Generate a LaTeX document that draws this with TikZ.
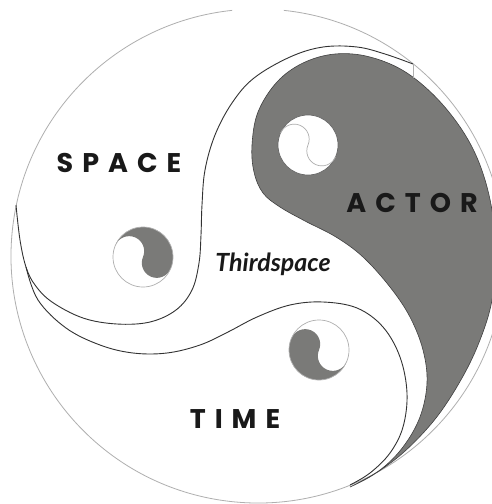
\documentclass[tikz,border=0pt]{standalone}
\usepackage{fontspec}
\newfontfamily\capsfont{Poppins}
\newfontfamily\italfont{Lato}
\definecolor{yyfill}{RGB}{122,122,120}
\definecolor{rimgray}{RGB}{175,175,175}
\definecolor{lobeline}{RGB}{50,50,50}
\newcommand\lgp{\kern 9pt}
\tikzset{
  rim/.style={draw=rimgray, line width=0.8pt},
  lobe/.style={draw=lobeline, line width=0.9pt},
  grayshape/.style={fill=yyfill, draw=black!75, line width=0.6pt},
  eyerim/.style={draw=rimgray, line width=0.7pt},
  bigword/.style={anchor=base, font=\capsfont\bfseries\fontsize{27}{30}\selectfont, text=black!90},
  midword/.style={anchor=base, font=\italfont\bfseries\itshape\fontsize{25}{28}\selectfont, text=black!90}
}
\begin{document}
\begin{tikzpicture}[x=1pt,y=-1pt]
\useasboundingbox (0,0) rectangle (492,504);
\fill[white] (0,0) rectangle (492,504);
\begin{scope}
\clip (0,0) rectangle (492,504);
% outer circle (with small gap at top)
\draw[rim] (258,256) ++(276:247) arc[start angle=276, end angle=624, radius=247];
% ACTOR gray lobe
\filldraw[grayshape] plot[smooth, tension=0.6] coordinates {
 (350,487) (380,470) (403,447) (420,417) (427,383) (423,350) (410,317)
 (390,287) (363,257) (336,237) (305,221) (280,207) (263,193) (254,172)
 (252,145) (258,112) (277,82) (303,63) (335,54) (370,57) (407,73)
 (443,105) (472,147) (489,195) (496,250) (492,300) (480,340) (462,378)
 (436,418) (404,452) (373,475) (350,487)} -- cycle;
% SPACE lobe line
\draw[lobe] plot[smooth, tension=0.6] coordinates {
 (16,205) (20,240) (26,267) (35,285) (52,302) (83,318) (117,324)
 (150,322) (176,310) (192,290) (199,263) (201,235) (202,205) (205,170)
 (215,135) (232,103) (254,78) (290,57) (323,47) (357,47) (385,54) (413,64)};
\draw[rim] (413,64) -- (413,78);
% TIME lobe line
\draw[lobe] plot[smooth, tension=0.6] coordinates {
 (26,267) (38,300) (66,328) (100,345) (133,353) (167,353) (200,345)
 (228,332) (257,317) (290,305) (323,302) (357,308) (383,327) (400,357)
 (407,393) (403,427) (390,453) (370,473) (350,485)};
\end{scope}
% SPACE eye: gray upper side
\fill[yyfill] (143,257) ++(203:30) arc[start angle=203, end angle=383, radius=15]
  arc[start angle=203, end angle=23, radius=15]
  arc[start angle=23, end angle=-157, radius=30] -- cycle;
\draw[eyerim] (143,257) circle[radius=30];
% ACTOR eye: white with S line
\filldraw[fill=white, draw=black!60, line width=0.7pt] (308,145) circle[radius=30];
\draw[eyerim] (308,145) ++(203:30) arc[start angle=203, end angle=383, radius=15]
  arc[start angle=203, end angle=23, radius=15];
% TIME eye: gray lower side
\fill[yyfill] (319,350) ++(203:30) arc[start angle=203, end angle=383, radius=15]
  arc[start angle=203, end angle=23, radius=15]
  arc[start angle=23, end angle=203, radius=30] -- cycle;
\draw[eyerim] (319,350) circle[radius=30];
% labels
\node[bigword] (space) at (119,172) {S\lgp P\lgp A\lgp C\lgp E};
\node[bigword] (actor) at (412,212) {A\lgp C\lgp T\lgp O\lgp R};
\node[bigword] (time) at (235,428) {T\lgp I\lgp M\lgp E};
\node[midword] (third) at (273,271) {Thirdspace};
\end{tikzpicture}
\end{document}
